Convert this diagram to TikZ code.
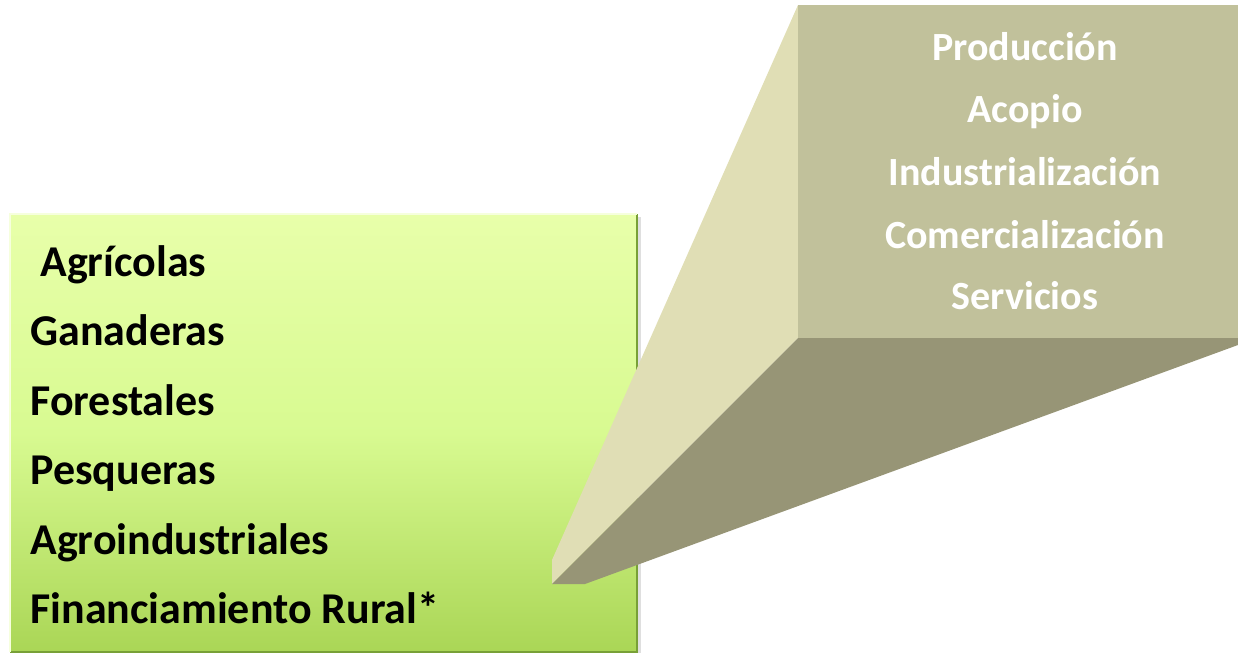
\documentclass[tikz,border=0pt]{standalone}
\usepackage{fontspec}
\setmainfont{Carlito}
\definecolor{frontolive}{RGB}{193,193,155}
\definecolor{sideolive}{RGB}{224,222,181}
\definecolor{bottomolive}{RGB}{151,149,118}
\definecolor{greentop}{RGB}{232,255,170}
\definecolor{greenmid}{RGB}{216,250,145}
\definecolor{greenbot}{RGB}{170,214,86}
\definecolor{greenedge}{RGB}{120,160,55}
\tikzset{
  itemleft/.style={anchor=base west, font=\fontsize{22}{24}\selectfont\bfseries, inner sep=0pt},
  itemright/.style={anchor=base, font=\fontsize{20}{22}\selectfont\bfseries, text=white, inner sep=0pt}
}
\begin{document}
\begin{tikzpicture}[x=0.5pt,y=-0.5pt]
        \useasboundingbox (0,0) rectangle (1238,653);
        \fill[gray!25] (13,217) rectangle (641,653);
        \shade[top color=greentop, bottom color=greenbot, middle color=greenmid] (10,214) rectangle (637,652);
        \draw[greenedge, line width=0.8pt] (637,214) -- (637,652) -- (10,652);
        \draw[white!60!greentop, line width=0.6pt] (10,652) -- (10,214) -- (637,214);

        \fill[sideolive] (552,560) -- (798,5) -- (798,338) -- (552,584) -- cycle;
        \fill[bottomolive] (552,584) -- (798,338) -- (1238,338) -- (1238,345) -- (585,584) -- cycle;
        \fill[frontolive] (798,5) rectangle (1238,338);

        \node[itemleft] (agricolas) at (40,276) {Agrícolas};
        \node[itemleft] (ganaderas) at (30,345) {Ganaderas};
        \node[itemleft] (forestales) at (30,415) {Forestales};
        \node[itemleft] (pesqueras) at (30,484) {Pesqueras};
        \node[itemleft] (agroind) at (30,554) {Agroindustriales};
        \node[itemleft] (financ) at (30,623) {Financiamiento Rural*};

        \node[itemright] (produccion) at (1025,61) {Producción};
        \node[itemright] (acopio) at (1025,122) {Acopio};
        \node[itemright] (industrial) at (1025,185) {Industrialización};
        \node[itemright] (comercial) at (1025,248) {Comercialización};
        \node[itemright] (servicios) at (1025,309) {Servicios};
\end{tikzpicture}
\end{document}
